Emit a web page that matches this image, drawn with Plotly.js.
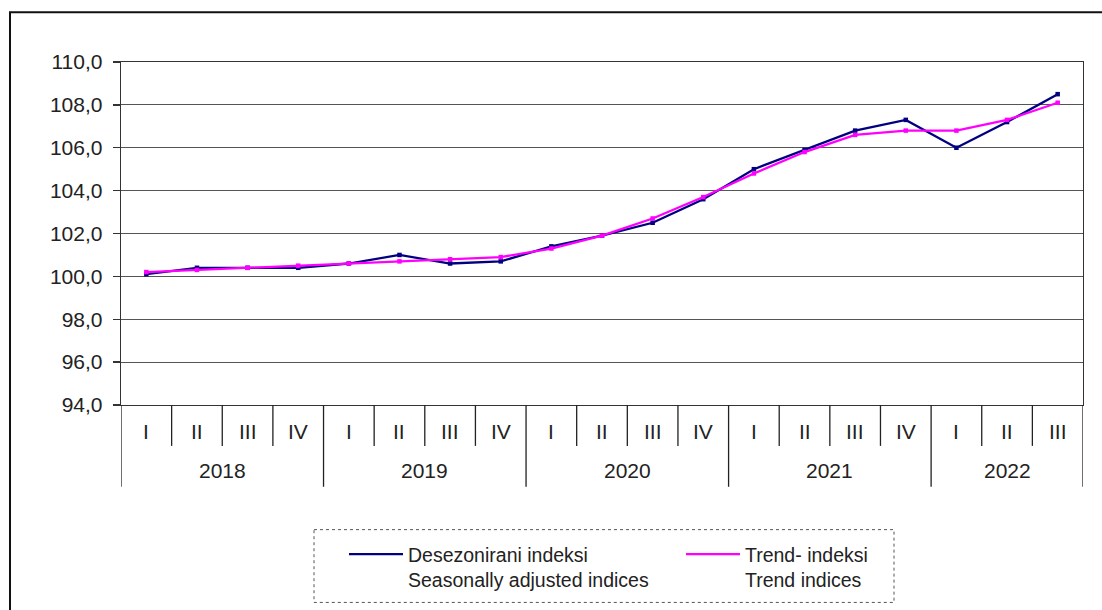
<!DOCTYPE html>
<html><head><meta charset="utf-8">
<script src="https://cdn.plot.ly/plotly-3.0.1.min.js"></script>
<style>html,body{margin:0;padding:0;background:#fff}#chart{width:1102px;height:610px}</style>
</head><body><div id="chart"></div>
<script>
// ---- data ----
const years = ['2018', '2019', '2020', '2021', '2022'];
const quartersPerYear = [4, 4, 4, 4, 3];
const quarterLabels = ['I', 'II', 'III', 'IV'];
const seasonallyAdjusted = [100.1, 100.4, 100.4, 100.4, 100.6, 101.0, 100.6, 100.7, 101.4, 101.9, 102.5, 103.6, 105.0, 105.9, 106.8, 107.3, 106.0, 107.2, 108.5];
const trend = [100.2, 100.3, 100.4, 100.5, 100.6, 100.7, 100.8, 100.9, 101.3, 101.9, 102.7, 103.7, 104.8, 105.8, 106.6, 106.8, 106.8, 107.3, 108.1];
const seriesNames = ['Desezonirani indeksi<br>Seasonally adjusted indices', 'Trend- indeksi<br>Trend indices'];
const seriesColors = ['#000080', '#FF00FF'];

// ---- build categories ----
const quarters = [], yearOfPoint = [];
years.forEach((y, i) => { for (let q = 0; q < quartersPerYear[i]; q++) { quarters.push(quarterLabels[q]); yearOfPoint.push(y); } });
const xIdx = quarters.map((_, i) => i);

// ---- geometry ----
const W = 1102, H = 610, ML = 121, MR = 19, MT = 62, MB = 204;
const pw = W - ML - MR, ph = H - MT - MB;
const px = v => (v - ML) / pw;
const py = v => (H - MB - v) / ph;

const txt = '#222';
const FONT = 'Liberation Sans, Arial, sans-serif';
const shapes = [], annotations = [];
let start = 0;
const yearBounds = [-0.5];
years.forEach((y, i) => {
  const n = quartersPerYear[i];
  annotations.push({ x: start + (n - 1) / 2, y: py(472), xref: 'x', yref: 'paper', text: y, showarrow: false, yanchor: 'middle', font: { size: 21, color: txt, family: FONT } });
  start += n;
  yearBounds.push(start - 0.5);
});
xIdx.forEach(i => {
  annotations.push({ x: i, y: py(433), xref: 'x', yref: 'paper', text: quarters[i], showarrow: false, yanchor: 'middle', font: { size: 21, color: txt, family: FONT } });
});
for (let b = 0; b <= quarters.length; b++) {
  const xb = b - 0.5;
  const isYear = yearBounds.includes(xb);
  shapes.push({ type: 'line', xref: 'x', yref: 'paper', x0: xb, x1: xb, y0: 0, y1: py(isYear ? 488 : 447), line: { color: '#222', width: 1.3 } });
}
// legend dotted box
shapes.push({ type: 'rect', xref: 'paper', yref: 'paper', x0: px(314), x1: px(894), y0: py(531), y1: py(604), line: { color: '#555', width: 1, dash: 'dot' } });
// outer frame (top + left)
shapes.push({ type: 'path', xref: 'paper', yref: 'paper', path: `M ${px(1110)} ${py(12)} L ${px(10)} ${py(12)} L ${px(10)} ${py(620)}`, line: { color: '#111', width: 2 } });

const series = [seasonallyAdjusted, trend];
const data = [];
series.forEach((s, i) => {
  data.push({ x: xIdx, y: s, name: seriesNames[i], type: 'scatter', mode: 'lines+markers', showlegend: false, line: { color: seriesColors[i], width: 2.3 }, marker: { color: seriesColors[i], size: 4.5, symbol: 'square' } });
});
// legend entries (line only, as in the original)
series.forEach((s, i) => {
  data.push({ x: [null], y: [null], name: seriesNames[i], type: 'scatter', mode: 'lines', showlegend: true, line: { color: seriesColors[i], width: 2.3 } });
});

const layout = {
  width: W, height: H,
  margin: { l: ML, r: MR, t: MT, b: MB, pad: 0 },
  paper_bgcolor: '#fff', plot_bgcolor: '#fff',
  separators: ',.',
  font: { family: FONT, color: txt },
  showlegend: true,
  legend: {
    orientation: 'h', x: px(344), y: py(535), xanchor: 'left', yanchor: 'top',
    itemwidth: 54, entrywidth: 268, entrywidthmode: 'pixels', valign: 'top',
    font: { size: 19.5, color: txt }, bgcolor: 'rgba(0,0,0,0)', borderwidth: 0,
    itemclick: false, itemdoubleclick: false
  },
  xaxis: { range: [-0.5, quarters.length - 0.5], showticklabels: false, showgrid: false, zeroline: false, showline: true, mirror: true, linecolor: '#333', linewidth: 1.3, ticks: '', fixedrange: true },
  yaxis: { range: [94, 110], dtick: 2, tick0: 94, tickformat: '.1f', showgrid: true, gridcolor: '#555', gridwidth: 1.2, zeroline: false, showline: true, mirror: true, linecolor: '#333', linewidth: 1.3, ticks: 'outside', ticklen: 7, tickcolor: '#333', tickwidth: 1.3, ticklabelstandoff: 6, tickfont: { size: 21, color: txt }, fixedrange: true },
  shapes, annotations
};
Plotly.newPlot('chart', data, layout, { displayModeBar: false, staticPlot: true });
</script></body></html>
